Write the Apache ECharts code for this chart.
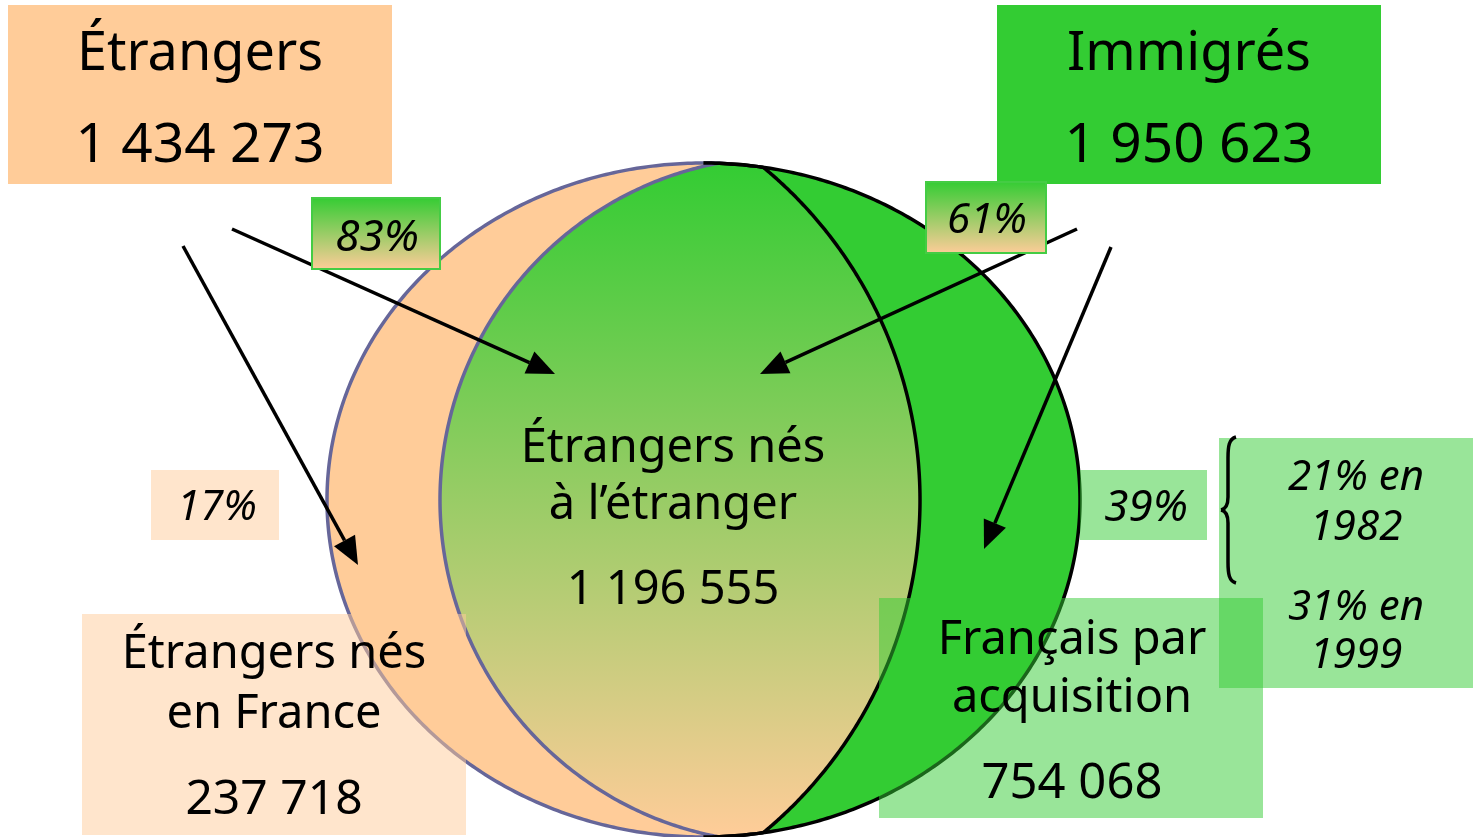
<!DOCTYPE html>
<html>
<head>
<meta charset="utf-8">
<title>Étrangers et immigrés</title>
<script src="https://cdn.jsdelivr.net/npm/echarts@6/dist/echarts.min.js"></script>
<style>
  html, body { margin: 0; padding: 0; background: #fff; }
  #chart { width: 1474px; height: 837px; }
</style>
</head>
<body>
<div id="chart"></div>
<script>
// données
const groupNames = ['Étrangers', 'Immigrés'];
const groupTotals = [1434273, 1950623];
const segmentLabels = [['Étrangers nés', 'en France'], ['Étrangers nés', 'à l’étranger'], ['Français par', 'acquisition']];
const segmentValues = [237718, 1196555, 754068];
const etrangersShares = [83, 17];   // nés à l'étranger / nés en France
const immigresShares = [61, 39];    // étrangers / français par acquisition
const acquisitionYears = [1982, 1999];
const acquisitionShares = [21, 31];

const fmt = n => String(n).replace(/\B(?=(\d{3})+(?!\d))/g, ' ');
const pct = n => n + '%';

// géométrie du diagramme
const EL = { cx: 703.5, cy: 500, rx: 376.5, ry: 337 };
const ARC_L = { cx: 783, r: 343 };
const ARC_R = { cx: 488.5, r: 431.5 };
const ORANGE = '#FFCC99', GREEN = '#33CC33', PURPLE = '#666699';
const FONT = '"Noto Sans", sans-serif';
const DY = 4; // décalage vertical des textes

const N = 300;
const oL = [], oR = [], aL = [], aR = [];
for (let i = 0; i <= N; i++) {
  const t = Math.PI * i / N;
  const dy = -EL.ry * Math.cos(t);
  const y = EL.cy + dy;
  const l = EL.cx - EL.rx * Math.sin(t), r = EL.cx + EL.rx * Math.sin(t);
  let xl = ARC_L.cx - Math.sqrt(Math.max(0, ARC_L.r * ARC_L.r - dy * dy));
  let xr = ARC_R.cx + Math.sqrt(Math.max(0, ARC_R.r * ARC_R.r - dy * dy));
  xl = Math.min(Math.max(xl, l), r);
  xr = Math.min(Math.max(xr, l), r);
  xr = Math.max(xr, xl);
  oL.push([l, y]); oR.push([r, y]); aL.push([xl, y]); aR.push([xr, y]);
}
const rev = a => a.slice().reverse();

function poly(points, fill) {
  return { type: 'polygon', shape: { points }, style: { fill, stroke: null } };
}
function line(points, stroke) {
  return { type: 'polyline', shape: { points }, style: { stroke, lineWidth: 3.5, fill: null } };
}
function arrow(x1, y1, x2, y2) {
  const L = 28, W = 12;
  const d = Math.hypot(x2 - x1, y2 - y1), ux = (x2 - x1) / d, uy = (y2 - y1) / d;
  const bx = x2 - ux * L, by = y2 - uy * L;
  return [
    { type: 'line', shape: { x1, y1, x2: bx, y2: by }, style: { stroke: '#000', lineWidth: 3.5 } },
    { type: 'polygon', shape: { points: [[x2, y2], [bx - uy * W, by + ux * W], [bx + uy * W, by - ux * W]] }, style: { fill: '#000' } }
  ];
}
function box(x, y, w, h, fill, stroke) {
  return { type: 'rect', shape: { x, y, width: w, height: h },
    style: { fill, stroke: stroke || null, lineWidth: stroke ? 2 : 0 } };
}
function label(text, x, y, size, italic) {
  const font = (italic ? 'italic ' : '') + size + 'px ' + FONT;
  return { type: 'text', x, y: y + DY, style: { text, font, fill: '#000',
    align: 'center', verticalAlign: 'middle', textAlign: 'center', textVerticalAlign: 'middle' } };
}
function curve(x1, y1, cpx1, cpy1, cpx2, cpy2, x2, y2) {
  return { type: 'bezierCurve', shape: { x1, y1, cpx1, cpy1, cpx2, cpy2, x2, y2 },
    style: { stroke: '#000', lineWidth: 3.5, fill: null } };
}
const grad = () => new echarts.graphic.LinearGradient(0, 0, 0, 1, [
  { offset: 0, color: GREEN }, { offset: 1, color: ORANGE }]);

const elements = [
  // crescents et intersection
  poly(oL.concat(rev(aL)), ORANGE),
  poly(aL.concat(rev(aR)), grad()),
  poly(aR.concat(rev(oR)), GREEN),
  line(oL, PURPLE),
  line(oR, '#000'),
  line(aL, PURPLE),
  line(aR, '#000'),
  // flèches
  ...arrow(232, 229, 555, 374),
  ...arrow(183, 246, 358, 565),
  ...arrow(1077, 229, 760, 374),
  ...arrow(1111, 247, 984, 549),
  // cadres du haut
  box(8, 5, 384, 179, ORANGE),
  box(997, 5, 384, 179, GREEN),
  box(312, 198, 128, 71, grad(), '#44CC44'),
  box(926, 182, 120, 71, grad(), '#44CC44'),
  // cadres du bas
  box(151, 470, 128, 70, 'rgba(255,204,153,0.5)'),
  box(1080, 470, 127, 70, 'rgba(51,204,51,0.5)'),
  box(1219, 438, 254, 250, 'rgba(51,204,51,0.5)'),
  box(82, 614, 384, 221, 'rgba(255,204,153,0.5)'),
  box(879, 598, 384, 220, 'rgba(51,204,51,0.5)'),
  // accolade
  curve(1236, 437, 1229, 439, 1228, 446, 1228, 458),
  { type: 'line', shape: { x1: 1228, y1: 458, x2: 1228, y2: 497 }, style: { stroke: '#000', lineWidth: 3.5 } },
  curve(1228, 497, 1228, 505, 1226, 509, 1221, 510),
  curve(1221, 510, 1226, 511, 1228, 515, 1228, 523),
  { type: 'line', shape: { x1: 1228, y1: 523, x2: 1228, y2: 562 }, style: { stroke: '#000', lineWidth: 3.5 } },
  curve(1228, 562, 1228, 574, 1229, 581, 1236, 583),
  // textes
  label(groupNames[0], 200, 51, 54),
  label(fmt(groupTotals[0]), 200, 142, 55),
  label(groupNames[1], 1189, 51, 54),
  label(fmt(groupTotals[1]), 1189, 142, 55),
  label(pct(etrangersShares[0]), 377, 234, 44, true),
  label(pct(immigresShares[0]), 987, 217, 42, true),
  label(pct(etrangersShares[1]), 217, 504, 42, true),
  label(pct(immigresShares[1]), 1146, 504, 44, true),
  label(segmentLabels[1][0], 673, 445, 47),
  label(segmentLabels[1][1], 673, 502, 47),
  label(fmt(segmentValues[1]), 673, 587, 47),
  label(segmentLabels[0][0], 274, 651, 47),
  label(segmentLabels[0][1], 274, 711, 47),
  label(fmt(segmentValues[0]), 274, 796, 48),
  label(segmentLabels[2][0], 1072, 637, 47),
  label(segmentLabels[2][1], 1072, 695, 47),
  label(fmt(segmentValues[2]), 1072, 780, 49),
  label(pct(acquisitionShares[0]) + ' en', 1356, 474, 42, true),
  label(String(acquisitionYears[0]), 1356, 524, 42, true),
  label(pct(acquisitionShares[1]) + ' en', 1356, 604, 42, true),
  label(String(acquisitionYears[1]), 1356, 652, 42, true)
];

const chart = echarts.init(document.getElementById('chart'));
chart.setOption({
  backgroundColor: '#fff',
  animation: false,
  graphic: { elements }
});
</script>
</body>
</html>
